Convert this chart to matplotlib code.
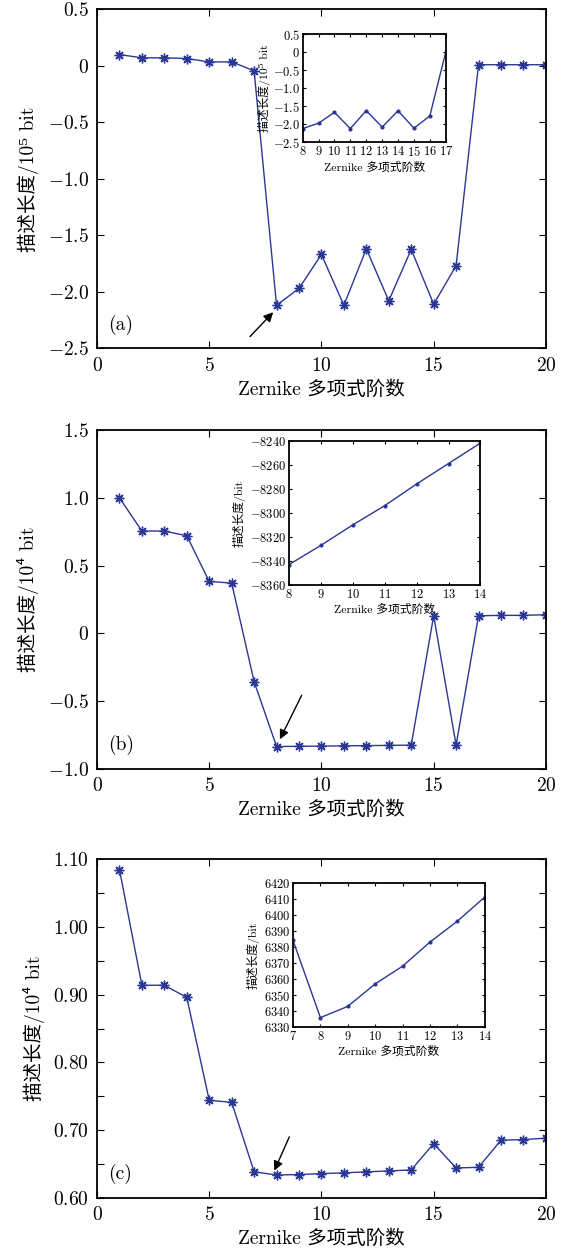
import numpy as np
import matplotlib
matplotlib.use('Agg')
import matplotlib.pyplot as plt

plt.rcParams['font.family'] = ['cmr10', 'Noto Sans CJK SC', 'DejaVu Serif']
plt.rcParams['mathtext.fontset'] = 'cm'
plt.rcParams['axes.formatter.use_mathtext'] = True

# data
orders = [1, 2, 3, 4, 5, 6, 7, 8, 9, 10, 11, 12, 13, 14, 15, 16, 17, 18, 19, 20]
# (a) description length / 1e5 bit
dl_a = [0.10, 0.071, 0.071, 0.065, 0.035, 0.035, -0.044, -2.12, -1.97, -1.67,
        -2.12, -1.62, -2.08, -1.625, -2.11, -1.77, 0.01, 0.01, 0.01, 0.01]
# (b) description length / 1e4 bit
dl_b = [1.00, 0.755, 0.755, 0.72, 0.383, 0.371, -0.356, -0.8343, -0.8327, -0.8310,
        -0.8294, -0.8276, -0.8259, -0.8242, 0.130, -0.823, 0.130, 0.133, 0.133, 0.138]
# (c) description length / 1e4 bit
dl_c = [1.085, 0.914, 0.914, 0.896, 0.744, 0.741, 0.6384, 0.6336, 0.6343, 0.6357,
        0.6368, 0.6383, 0.6396, 0.6411, 0.680, 0.644, 0.645, 0.685, 0.686, 0.688]

# insets
ins_a_x = [8, 9, 10, 11, 12, 13, 14, 15, 16, 17]
ins_a_y = [-2.12, -1.97, -1.67, -2.12, -1.62, -2.08, -1.625, -2.11, -1.77, 0.0]
ins_b_x = [8, 9, 10, 11, 12, 13, 14]
ins_b_y = [-8343, -8327, -8310, -8294, -8276, -8259, -8242]
ins_c_x = [7, 8, 9, 10, 11, 12, 13, 14]
ins_c_y = [6384, 6336, 6343, 6357, 6368, 6383, 6396, 6411]

blue = '#2a3796'
xlab = 'Zernike 多项式阶数'
star = (8, 2, 0)


def mlab(v, fmt):
    s = fmt.format(abs(v))
    if v < 0:
        return '$-' + s + '$'
    return '$' + s + '$'


def style(ax, lw, tl):
    for sp in ax.spines.values():
        sp.set_linewidth(lw)
    ax.tick_params(direction='in', top=True, right=True, length=tl, width=0.8)


fig = plt.figure(figsize=(5.74, 12.5), dpi=100)

panels = [
    dict(pos=[0.169, 0.7214, 0.782, 0.2711], y=dl_a, ylim=(-2.5, 0.5),
         yt=[0.5, 0, -0.5, -1.0, -1.5, -2.0, -2.5],
         ytl=['0.5', '0', '-0.5', '-1.0', '-1.5', '-2.0', '-2.5'],
         ylab='描述长度/10⁵ bit', tag='(a)',
         arr=((7.85, -2.181), (6.815, -2.397)),
         ins=[0.5273, 0.8862, 0.2492, 0.0864], ix=ins_a_x, iy=ins_a_y,
         ixlim=(8, 17), iylim=(-2.5, 0.5),
         iyt=[0.5, 0, -0.5, -1.0, -1.5, -2.0, -2.5],
         iytl=['0.5', '0', '-0.5', '-1.0', '-1.5', '-2.0', '-2.5'],
         iylab='描述长度/10⁵ bit', ipad=1),
    dict(pos=[0.169, 0.3848, 0.782, 0.2712], y=dl_b, ylim=(-1.0, 1.5),
         yt=[1.5, 1.0, 0.5, 0, -0.5, -1.0],
         ytl=['1.5', '1.0', '0.5', '0', '-0.5', '-1.0'],
         ylab='描述长度/10⁴ bit', tag='(b)',
         arr=((8.15, -0.781), (9.12, -0.456)),
         ins=[0.503, 0.5318, 0.3341, 0.1157], ix=ins_b_x, iy=ins_b_y,
         ixlim=(8, 14), iylim=(-8360, -8240),
         iyt=[-8240, -8260, -8280, -8300, -8320, -8340, -8360],
         iytl=None, iylab='描述长度/bit', ipad=3),
    dict(pos=[0.169, 0.0418, 0.782, 0.2707], y=dl_c, ylim=(0.60, 1.10),
         yt=[0.60, 0.65, 0.70, 0.75, 0.80, 0.85, 0.90, 0.95, 1.00, 1.05, 1.10],
         ytl=['0.60', '', '0.70', '', '0.80', '', '0.90', '', '1.00', '', '1.10'],
         ylab='描述长度/10⁴ bit', tag='(c)',
         arr=((7.90, 0.640), (8.57, 0.690)),
         ins=[0.5105, 0.1782, 0.334, 0.1157], ix=ins_c_x, iy=ins_c_y,
         ixlim=(7, 14), iylim=(6330, 6420),
         iyt=[6330, 6340, 6350, 6360, 6370, 6380, 6390, 6400, 6410, 6420],
         iytl=None, iylab='描述长度/bit', ipad=3),
]

for p in panels:
    ax = fig.add_axes(p['pos'])
    ax.plot(orders, p['y'], color=blue, lw=1.0, marker=star, ms=7, mew=1.0)
    ax.set_xlim(0, 20)
    ax.set_ylim(*p['ylim'])
    ax.set_xticks([0, 5, 10, 15, 20])
    ax.set_xticklabels(['$%d$' % t for t in [0, 5, 10, 15, 20]], fontsize=14)
    ax.set_yticks(p['yt'])
    ax.set_yticklabels([('$' + s + '$') if s else '' for s in p['ytl']], fontsize=14)
    style(ax, 1.3, 5)
    ax.tick_params(pad=6)
    ax.set_xlabel(xlab, fontsize=14)
    ax.set_ylabel(p['ylab'], fontsize=14, labelpad=6)
    ax.text(0.025, 0.07, p['tag'], transform=ax.transAxes, fontsize=14,
            ha='left', va='center')
    ax.annotate('', xy=p['arr'][0], xytext=p['arr'][1],
                arrowprops=dict(arrowstyle='-|>', color='black', lw=1.0,
                                mutation_scale=14, shrinkA=0, shrinkB=0))

    ia = fig.add_axes(p['ins'])
    ia.plot(p['ix'], p['iy'], color=blue, lw=1.0, marker='.', ms=4)
    ia.set_xlim(*p['ixlim'])
    ia.set_ylim(*p['iylim'])
    xt = list(range(p['ixlim'][0], p['ixlim'][1] + 1))
    ia.set_xticks(xt)
    ia.set_xticklabels(['$%d$' % t for t in xt], fontsize=9)
    ia.set_yticks(p['iyt'])
    if p['iytl'] is None:
        ia.set_yticklabels([mlab(v, '{:d}') for v in p['iyt']], fontsize=9)
    else:
        ia.set_yticklabels(['$' + s + '$' for s in p['iytl']], fontsize=9)
    style(ia, 1.3, 2.5)
    ia.tick_params(pad=2)
    ia.set_xlabel(xlab, fontsize=8.5, labelpad=2)
    ia.set_ylabel(p['iylab'], fontsize=8.5, labelpad=p['ipad'])

fig.savefig('out.png', dpi=100)
